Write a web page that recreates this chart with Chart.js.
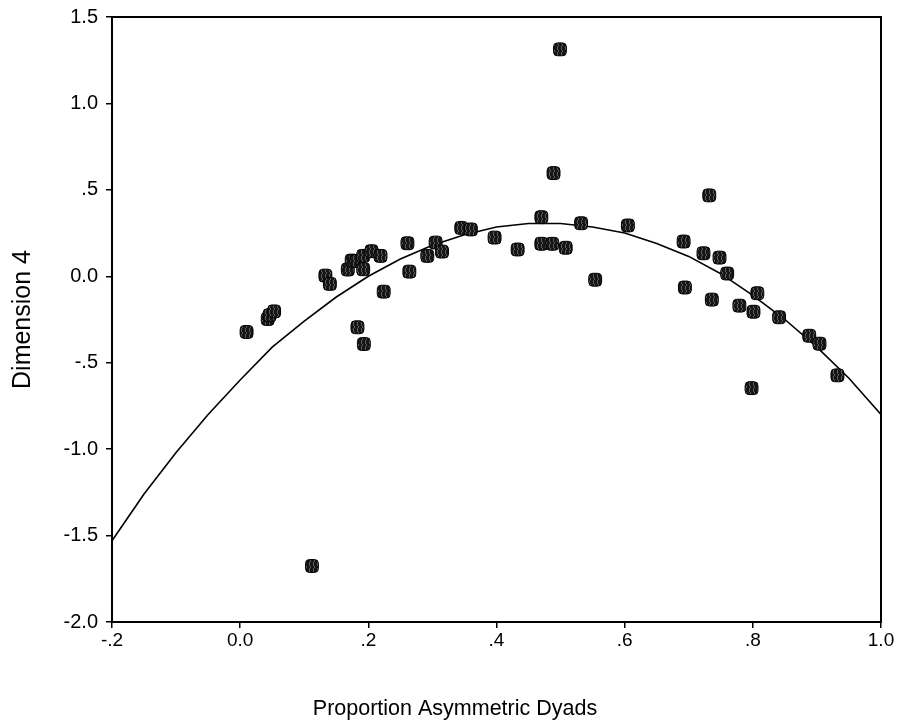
<!DOCTYPE html>
<html>
<head>
<meta charset="utf-8">
<script src="https://cdn.jsdelivr.net/npm/chart.js@4.4.1/dist/chart.umd.min.js"></script>
<style>
  html, body { margin: 0; padding: 0; background: #fff; }
</style>
</head>
<body>
<canvas id="chart" width="900" height="728"></canvas>
<script>
// observed cases
const propAsym = [0.010, 0.043, 0.046, 0.053, 0.133, 0.140, 0.168, 0.174, 0.181, 0.192,
                  0.192, 0.205, 0.219, 0.183, 0.193, 0.224, 0.261, 0.264, 0.292, 0.305,
                  0.315, 0.345, 0.360, 0.397, 0.433, 0.470, 0.487, 0.470, 0.489, 0.499,
                  0.508, 0.532, 0.554, 0.605, 0.692, 0.694, 0.723, 0.732, 0.736, 0.748,
                  0.760, 0.779, 0.798, 0.801, 0.807, 0.841, 0.888, 0.904, 0.932, 0.112];
const dim4 = [-0.322, -0.247, -0.225, -0.203, 0.004, -0.044, 0.039, 0.091, 0.088, 0.041,
              0.118, 0.145, 0.118, -0.295, -0.392, -0.089, 0.191, 0.027, 0.118, 0.195,
              0.143, 0.280, 0.271, 0.224, 0.155, 0.188, 0.188, 0.342, 0.597, 1.313,
              0.165, 0.307, -0.020, 0.294, 0.201, -0.065, 0.133, 0.468, -0.135, 0.108,
              0.016, -0.170, -0.647, -0.205, -0.098, -0.237, -0.344, -0.390, -0.573, -1.676];

// fitted curve
const fitX = [-0.2, -0.15, -0.1, -0.05, 0.0, 0.05, 0.1, 0.15, 0.2, 0.25, 0.3, 0.35, 0.4,
              0.45, 0.5, 0.55, 0.6, 0.65, 0.7, 0.75, 0.8, 0.85, 0.9, 0.95, 1.0];
const fitY = [-1.53, -1.26, -1.02, -0.80, -0.60, -0.41, -0.26, -0.12, 0.00, 0.10, 0.18, 0.24, 0.285,
              0.305, 0.305, 0.285, 0.25, 0.19, 0.115, 0.015, -0.11, -0.25, -0.41, -0.59, -0.80];

const xTicks = [-0.2, 0.0, 0.2, 0.4, 0.6, 0.8, 1.0];
const xTickLabels = ['-.2', '0.0', '.2', '.4', '.6', '.8', '1.0'];
const yTicks = [-2.0, -1.5, -1.0, -0.5, 0.0, 0.5, 1.0, 1.5];
const yTickLabels = ['-2.0', '-1.5', '-1.0', '-.5', '0.0', '.5', '1.0', '1.5'];

const FONT = "'Liberation Sans', Arial, Helvetica, sans-serif";

// dark hatched fill like the original marker
function markerFill() {
    const c = document.createElement('canvas');
    c.width = 4; c.height = 6;
    const g = c.getContext('2d');
    g.fillStyle = '#161616';
    g.fillRect(0, 0, 4, 6);
    g.fillStyle = '#5a5a5a';
    g.fillRect(1, 0, 1, 2);
    g.fillRect(2, 2, 1, 2);
    g.fillRect(1, 4, 1, 2);
    return g.createPattern(c, 'repeat');
}

const frame = {
    id: 'frame',
    afterDatasetsDraw(chart) {
        const a = chart.chartArea, ctx = chart.ctx;
        ctx.save();
        ctx.strokeStyle = '#000';
        ctx.lineWidth = 2;
        ctx.strokeRect(a.left, a.top, a.right - a.left, a.bottom - a.top);
        ctx.restore();
    }
};

const points = propAsym.map((x, i) => ({ x: x, y: dim4[i] }));
const curve = fitX.map((x, i) => ({ x: x, y: fitY[i] }));

new Chart(document.getElementById('chart'), {
    type: 'scatter',
    data: {
        datasets: [
            {
                label: 'Observed',
                data: points,
                pointStyle: 'rectRounded',
                pointRadius: 7.5,
                pointHoverRadius: 7.5,
                backgroundColor: markerFill(),
                borderColor: '#000',
                borderWidth: 1,
                order: 0
            },
            {
                label: 'Quadratic',
                type: 'line',
                data: curve,
                showLine: true,
                pointRadius: 0,
                borderColor: '#000',
                borderWidth: 1.6,
                tension: 0,
                fill: false,
                order: 1
            }
        ]
    },
    options: {
        responsive: false,
        animation: false,
        devicePixelRatio: 1,
        layout: { padding: { left: 29, top: 17, right: 19, bottom: 0 } },
        plugins: {
            legend: { display: false },
            tooltip: { enabled: false },
            title: {
                display: true,
                position: 'bottom',
                text: 'Proportion Asymmetric Dyads',
                color: '#000',
                font: { family: FONT, size: 21.5, weight: 'normal' },
                padding: { top: 10, bottom: 6 }
            }
        },
        scales: {
            x: {
                type: 'linear',
                min: -0.2,
                max: 1.0,
                afterFit(scale) { scale.height = 64.2; },
                afterBuildTicks(scale) { scale.ticks = xTicks.map(v => ({ value: v })); },
                ticks: {
                    color: '#000',
                    font: { family: FONT, size: 19 },
                    padding: 1,
                    maxRotation: 0,
                    autoSkip: false,
                    callback: (v, i) => xTickLabels[i]
                },
                grid: {
                    display: true,
                    drawOnChartArea: false,
                    drawTicks: true,
                    tickLength: 6,
                    color: '#000',
                    lineWidth: 1.5
                },
                border: { display: false }
            },
            y: {
                type: 'linear',
                min: -2.0,
                max: 1.5,
                afterFit(scale) {
                    scale.width = 83;
                    scale.paddingTop = 0;
                    scale.paddingBottom = 0;
                },
                afterBuildTicks(scale) { scale.ticks = yTicks.map(v => ({ value: v })); },
                ticks: {
                    color: '#000',
                    font: { family: FONT, size: 20 },
                    padding: 8,
                    autoSkip: false,
                    callback: (v, i) => yTickLabels[i]
                },
                grid: {
                    display: true,
                    drawOnChartArea: false,
                    drawTicks: true,
                    tickLength: 6,
                    color: '#000',
                    lineWidth: 1.5
                },
                border: { display: false },
                title: {
                    display: true,
                    text: 'Dimension 4',
                    color: '#000',
                    font: { family: FONT, size: 25, weight: 'normal' },
                    padding: { top: -21, bottom: 0 }
                }
            }
        }
    },
    plugins: [frame]
});
</script>
</body>
</html>
